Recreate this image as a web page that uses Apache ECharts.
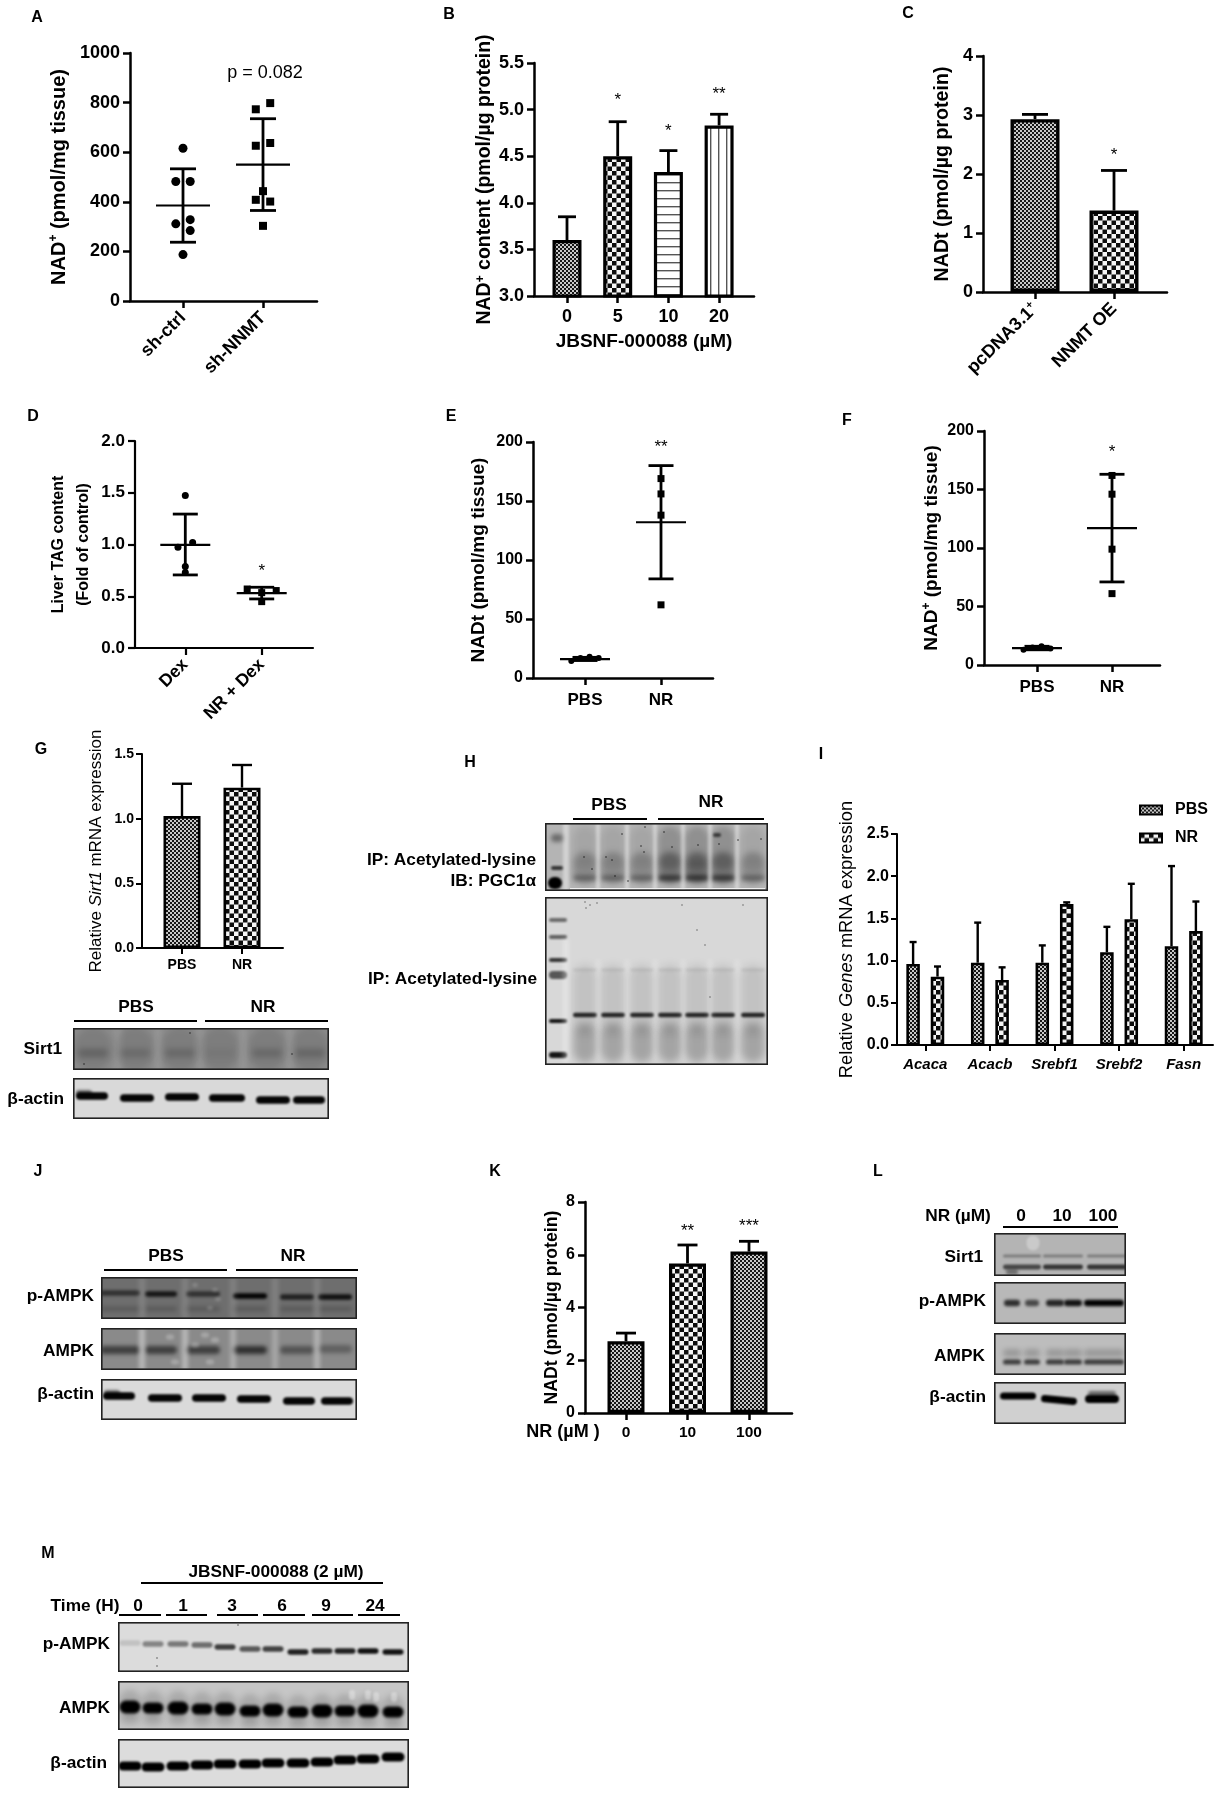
<!DOCTYPE html>
<html><head><meta charset="utf-8">
<style>html,body{margin:0;padding:0;background:#fff}#c{width:1231px;height:1800px}</style>
<script src="https://cdn.jsdelivr.net/npm/echarts@6/dist/echarts.min.js"></script>
</head><body><div id="c"></div>
<script>
// ---------- DATA ----------
const aCats = ['sh-ctrl','sh-NNMT'];
const aCtrl = [[1,616],[0.91,482],[1.09,482],[0.91,311],[1.09,328],[1.09,284],[1,187]];
const aNnmt = [[2.09,798],[1.91,773],[2.09,637],[1.91,626],[2,443],[1.91,408],[2.09,401],[2,303]];
const aStats = [[1,385,533,237],[2,550,735,365]];
const bCats = ['0','5','10','20'];
const bVals = [3.6,4.5,4.33,4.83];
const bTops = [3.85,4.87,4.56,4.95];
const bStars = [[2,5.13,'*'],[3,4.8,'*'],[4,5.2,'**']];
const cCats = ['pcDNA3.1{sup|+}','NNMT OE'];
const cVals = [2.93,1.38];
const cTops = [3.01,2.06];
const cStars = [[2,2.36,'*']];
const dCats = ['Dex','NR + Dex'];
const dDex = [[1,1.474],[1.096,1.02],[0.904,0.974],[1,0.787],[1,0.73]];
const dNr = [[1.81,0.57],[2.19,0.555],[2,0.535],[2,0.448]];
const dStats = [[1,0.997,1.294,0.706],[2,0.53,0.587,0.474]];
const dStars = [[2,0.77,'*']];
const pbsNr = ['PBS','NR'];
const ePbs = [[0.82,14.5],[0.94,17],[1.06,18],[1.18,17]];
const eNr = [[2,169],[2,156],[2,138],[2,62]];
const eStats = [[1,16,17.5,14.8],[2,132,180,84]];
const eStars = [[2,198,'**']];
const fPbs = [[0.82,13],[0.94,15],[1.06,16],[1.18,14]];
const fNr = [[2,162],[2,146],[2,99],[2,61]];
const fStats = [[1,14.5,16,13],[2,117,163,71]];
const fStars = [[2,184,'*']];
const gVals = [1.02,1.24];
const gTops = [1.27,1.415];
const iCats = ['Acaca','Acacb','Srebf1','Srebf2','Fasn'];
const iPbs = [0.96,0.975,0.975,1.10,1.17];
const iPbsTop = [1.22,1.45,1.18,1.40,2.12];
const iNr = [0.81,0.77,1.67,1.49,1.35];
const iNrTop = [0.93,0.92,1.69,1.91,1.70];
const kCats = ['0','10','100'];
const kVals = [2.72,5.67,6.12];
const kTops = [3.03,6.37,6.51];
const kStars = [[2,7.02,'**'],[3,7.18,'***']];

// ---------- HELPERS ----------
const FF = '"Liberation Sans", Arial, sans-serif';
function tile(kind){
  const c=document.createElement('canvas'), x=()=>c.getContext('2d');
  if(kind==='fine'){c.width=c.height=4;const g=x();g.fillStyle='#c8c8c8';g.fillRect(0,0,4,4);g.fillStyle='#161616';g.fillRect(0,0,2,2);g.fillRect(2,2,2,2);}
  if(kind==='coarse'){c.width=c.height=9;const g=x();g.fillStyle='#f4f4f4';g.fillRect(0,0,9,9);g.fillStyle='#0c0c0c';g.fillRect(0,0,4.5,4.5);g.fillRect(4.5,4.5,4.5,4.5);}
  if(kind==='h'){c.width=4;c.height=8;const g=x();g.fillStyle='#fff';g.fillRect(0,0,4,8);g.fillStyle='#555';g.fillRect(0,6,4,1.4);}
  if(kind==='v'){c.width=8;c.height=4;const g=x();g.fillStyle='#fff';g.fillRect(0,0,8,4);g.fillStyle='#555';g.fillRect(6,0,1.4,4);}
  return {image:c,repeat:'repeat'};
}
const P={fine:tile('fine'),coarse:tile('coarse'),h:tile('h'),v:tile('v')};
const grids=[],xAxes=[],yAxes=[],series=[],gfx=[];
const subRich=(fs,w)=>({sup:{fontSize:Math.round(fs*0.62),fontWeight:w,fontFamily:FF,verticalAlign:'top',lineHeight:fs+2,padding:[0,0,fs*0.45,0]},
  i:{fontSize:fs,fontStyle:'italic',fontWeight:w,fontFamily:FF},t:{fontSize:fs,fontWeight:w,fontFamily:FF}});
function panel(o){
  const i=grids.length, u=o.cat2-o.cat1;
  const cv=o.cats.map((_,k)=>k+1);
  const lw=o.lw||2.5, tl=o.tick||7;
  grids.push({left:o.l,top:o.t,width:o.r-o.l,height:o.b-o.t});
  xAxes.push({type:'value',gridIndex:i,position:'bottom',min:1-(o.cat1-o.l)/u,max:1+(o.r-o.cat1)/u,
    splitLine:{show:false},axisLine:{onZero:false,lineStyle:{color:'#000',width:lw}},
    axisTick:{customValues:cv,length:tl,lineStyle:{color:'#000',width:lw}},
    axisLabel:{customValues:cv,formatter:v=>o.cats[Math.round(v)-1],rotate:o.rot||0,margin:o.xm||12,color:'#000',
      fontFamily:FF,fontSize:o.xfs||16,fontWeight:o.xw||'bold',fontStyle:o.xi?'italic':'normal',rich:subRich(o.xfs||16,'bold')},
    name:o.xname||'',nameLocation:'middle',nameGap:o.xgap||30,nameTextStyle:{color:'#000',fontFamily:FF,fontSize:19,fontWeight:'bold'}});
  yAxes.push({type:'value',gridIndex:i,min:o.ymin,max:o.ymax,interval:o.yint,splitLine:{show:false},
    axisLine:{onZero:false,show:true,lineStyle:{color:'#000',width:lw}},
    axisTick:{show:true,length:tl,lineStyle:{color:'#000',width:lw}},
    axisLabel:{margin:o.ym||10,color:'#000',fontFamily:FF,fontSize:o.yfs||18,fontWeight:'bold',
      formatter:v=>o.yd?v.toFixed(o.yd):String(v)},
    name:o.yname,nameLocation:'middle',nameRotate:90,nameGap:o.ygap,
    nameTextStyle:{color:'#000',fontFamily:FF,fontSize:o.ynfs||18,fontWeight:o.ynw||'bold',lineHeight:o.ynlh,rich:subRich(o.ynfs||18,o.ynw||'bold')}});
  return i;
}
function whiskers(i,data,cap,mean){
  series.push({type:'custom',name:'stats'+i,xAxisIndex:i,yAxisIndex:i,coordinateSystem:'cartesian2d',z:3,silent:true,clip:false,
    encode:{x:0,y:[1,2,3]},data,
    renderItem(p,api){
      const x=api.value(0),m=api.coord([x,api.value(1)]),h=api.coord([x,api.value(2)]),l=api.coord([x,api.value(3)]);
      const L=(a,b,c,d,w)=>({type:'line',shape:{x1:a,y1:b,x2:c,y2:d},style:{stroke:'#000',lineWidth:w}});
      return {type:'group',children:[L(m[0],h[1],m[0],l[1],2.8),L(m[0]-cap,h[1],m[0]+cap,h[1],2.8),L(m[0]-cap,l[1],m[0]+cap,l[1],2.8),L(m[0]-mean,m[1],m[0]+mean,m[1],2.2)]};
    }});
}
function pts(i,data,symbol,size){
  series.push({type:'scatter',name:'pts'+i+symbol,xAxisIndex:i,yAxisIndex:i,symbol,symbolSize:size,data,z:4,silent:true,itemStyle:{color:'#000',opacity:1}});
}
function bars(i,name,xs,vals,tops,pats,opt){
  opt=opt||{};
  series.push({type:'bar',name,xAxisIndex:i,yAxisIndex:i,barWidth:opt.w,barGap:'-100%',z:2,silent:true,
    itemStyle:{borderColor:'#000',borderWidth:opt.bw||3,color:pats[0]},
    data:vals.map((v,k)=>({value:[xs[k],v],itemStyle:{color:pats[k%pats.length],borderColor:'#000',borderWidth:opt.bw||3}}))});
  const d=vals.map((v,k)=>[xs[k],v,tops[k]]), cap=opt.cap||9;
  series.push({type:'custom',name:name+' err',xAxisIndex:i,yAxisIndex:i,z:1,silent:true,clip:false,encode:{x:0,y:[1,2]},data:d,
    renderItem(p,api){
      const a=api.coord([api.value(0),api.value(1)]),b=api.coord([api.value(0),api.value(2)]);
      const s={stroke:'#000',lineWidth:opt.elw||2.8};
      return {type:'group',children:[{type:'line',shape:{x1:a[0],y1:a[1],x2:b[0],y2:b[1]},style:s},
        {type:'line',shape:{x1:b[0]-cap,y1:b[1],x2:b[0]+cap,y2:b[1]},style:s}]};
    }});
}
function stars(i,list){
  series.push({type:'custom',name:'sig'+i,xAxisIndex:i,yAxisIndex:i,z:5,silent:true,clip:false,encode:{x:0,y:1},
    data:list.map(s=>[s[0],s[1]]),
    renderItem(p,api){
      const c=api.coord([api.value(0),api.value(1)]);
      return {type:'text',x:c[0],y:c[1]+3,style:{text:list[p.dataIndex][2],fontFamily:FF,fontSize:17,fill:'#000',align:'center',verticalAlign:'middle'}};
    }});
}
function txt(text,x,y,o){
  o=o||{};
  gfx.push({type:'text',x,y,z:20,rotation:o.rot||0,style:{text,fontFamily:FF,fontSize:o.fs||17.3,fontWeight:o.w||'bold',fill:'#000',align:o.a||'center',verticalAlign:'middle'}});
}
function rule(x1,x2,y,w){gfx.push({type:'line',z:20,shape:{x1,y1:y,x2,y2:y},style:{stroke:'#000',lineWidth:w||2.2}});}

// ---------- CHART PANELS ----------
let g;
g=panel({l:130,r:317,t:53,b:301,cat1:183,cat2:263,cats:aCats,ymin:0,ymax:1000,yint:200,yname:'{t|NAD}{sup|+}{t| (pmol/mg tissue)}',ygap:60,ynfs:20,rot:45,xfs:18,xm:14});
whiskers(g,aStats,13,27);pts(g,aCtrl,'circle',9);pts(g,aNnmt,'rect',8);
g=panel({l:534,r:754,t:63,b:296,cat1:567,cat2:617.7,cats:bCats,ymin:3,ymax:5.5,yint:0.5,yd:1,yname:'{t|NAD}{sup|+}{t| content (pmol/µg protein)}',ygap:38,ynfs:19.5,xfs:18,xm:12,xname:'JBSNF-000088 (µM)',xgap:36});
bars(g,'B',[1,2,3,4],bVals,bTops,[P.fine,P.coarse,P.h,P.v],{w:29,bw:3.2});stars(g,bStars);
g=panel({l:983,r:1167,t:56,b:292,cat1:1035,cat2:1114,cats:cCats,ymin:0,ymax:4,yint:1,yname:'NADt (pmol/µg protein)',ygap:30,ynfs:19.6,rot:45,xfs:18,xm:14});
bars(g,'C',[1,2],cVals,cTops,[P.fine,P.coarse],{w:49,bw:3.4,cap:13});stars(g,cStars);
g=panel({l:135,r:313,t:441,b:648,cat1:185.3,cat2:261.7,cats:dCats,ymin:0,ymax:2,yint:0.5,yd:1,yfs:17,yname:'Liver TAG content\n(Fold of control)',ynfs:16,ynlh:25,ygap:39,rot:45,xfs:17.5,xm:14,lw:2.2});
whiskers(g,dStats,12.5,25);pts(g,dDex,'circle',7);pts(g,dNr,'rect',7);stars(g,dStars);
g=panel({l:533,r:713,t:442,b:678,cat1:585,cat2:661,cats:pbsNr,ymin:0,ymax:200,yint:50,yfs:16,yname:'NADt (pmol/mg tissue)',ygap:45,ynfs:19,xfs:17,xm:14});
whiskers(g,eStats,12.5,25);pts(g,ePbs,'circle',6);pts(g,eNr,'rect',7);stars(g,eStars);
g=panel({l:984,r:1160,t:431,b:665,cat1:1037,cat2:1112,cats:pbsNr,ymin:0,ymax:200,yint:50,yfs:16,yname:'{t|NAD}{sup|+}{t| (pmol/mg tissue)}',ygap:42,ynfs:19,xfs:17,xm:14});
whiskers(g,fStats,12.5,25);pts(g,fPbs,'circle',6);pts(g,fNr,'rect',7);stars(g,fStars);
g=panel({l:142,r:283,t:754,b:948,cat1:182,cat2:242,cats:pbsNr,ymin:0,ymax:1.5,yint:0.5,yd:1,yfs:14,yname:'Relative {i|Sirt1} mRNA expression',ygap:37,ynfs:17,ynw:'normal',xfs:14,xm:10,lw:2,tick:6,ym:8});
bars(g,'G',[1,2],gVals,gTops,[P.fine,P.coarse],{w:37,bw:2.6,cap:10,elw:2.4});
g=panel({l:897,r:1213,t:834,b:1045,cat1:925.3,cat2:989.9,cats:iCats,ymin:0,ymax:2.5,yint:0.5,yd:1,yfs:16,yname:'Relative {i|Genes} mRNA expression',ygap:41,ynfs:18.3,ynw:'normal',xfs:15,xi:true,xm:12,lw:2,tick:6,ym:8});
{const off=12.2/64.6;
 bars(g,'PBS',iCats.map((_,k)=>k+1-off),iPbs,iPbsTop,[P.fine],{w:13.5,bw:2.6,cap:3.5,elw:2.4});
 bars(g,'NR',iCats.map((_,k)=>k+1+off),iNr,iNrTop,[P.coarse],{w:13.5,bw:2.6,cap:3.5,elw:2.4});}
g=panel({l:585,r:792,t:1202,b:1413,cat1:626,cat2:687.5,cats:kCats,ymin:0,ymax:8,yint:2,yfs:16,yname:'NADt (pmol/µg protein)',ygap:24,ynfs:17.7,xfs:15.5,xm:12});
bars(g,'K',[1,2,3],kVals,kTops,[P.fine,P.coarse,P.fine],{w:37,bw:3.2,cap:10});stars(g,kStars);

// ---------- TEXT ----------
[['A',37,18],['B',449,15],['C',908,14],['D',33,417],['E',451,417],['F',847,421],['G',41,750],['H',470,763],['I',821,755],['J',38,1172],['K',495,1172],['L',878,1172],['M',48,1554]]
  .forEach(a=>txt(a[0],a[1],a[2],{fs:16}));
txt('p = 0.082',265,73,{fs:18,w:'normal'});
txt('NR (µM )',563,1432,{fs:18});
// G
txt('PBS',136,1007);txt('NR',263,1007);rule(74,197,1021);rule(205,328,1021);
txt('Sirt1',62,1049,{a:'right'});txt('β-actin',64,1099,{a:'right'});
// H
txt('PBS',609,805);txt('NR',711,802);rule(573,647,819);rule(658,764,819);
txt('IP: Acetylated-lysine',536,860,{a:'right'});txt('IB: PGC1α',536,881,{a:'right'});txt('IP: Acetylated-lysine',537,979,{a:'right'});
// J
txt('PBS',166,1256);txt('NR',293,1256);rule(104,227,1270);rule(236,358,1270);
txt('p-AMPK',94,1296,{a:'right'});txt('AMPK',94,1351,{a:'right'});txt('β-actin',94,1394,{a:'right'});
// L
txt('NR (µM)',958,1216);txt('0',1021,1216);txt('10',1062,1216);txt('100',1103,1216);rule(1003,1118,1227);
txt('Sirt1',983,1257,{a:'right'});txt('p-AMPK',986,1301,{a:'right'});txt('AMPK',985,1356,{a:'right'});txt('β-actin',986,1397,{a:'right'});
// M
txt('JBSNF-000088 (2 µM)',276,1572);rule(141,383,1583);txt('Time (H)',85,1606);
[['0',138,119,161],['1',183,166,207],['3',232,217,258],['6',282,263,305],['9',326,312,353],['24',375,358,400]]
  .forEach(a=>{txt(a[0],a[1],1606);rule(a[2],a[3],1615);});
txt('p-AMPK',110,1644,{a:'right'});txt('AMPK',110,1708,{a:'right'});txt('β-actin',107,1763,{a:'right'});

// ---------- BLOT IMAGES (painted texture, not data) ----------
function blot(x,y,w,h,bg,draw){
  const c=document.createElement('canvas');c.width=w;c.height=h;
  const t=c.getContext('2d');t.fillStyle=bg;t.fillRect(0,0,w,h);t.translate(-x,-y);
  draw(t);t.setTransform(1,0,0,1,0,0);
  t.strokeStyle='#222';t.lineWidth=1.6;t.strokeRect(.8,.8,w-1.6,h-1.6);
  gfx.push({type:'image',x,y,z:1,style:{image:c,x:0,y:0,width:w,height:h}});
}
function band(t,cx,cy,rx,ry,a,bl,rgb){
  t.save();t.filter='blur('+(bl==null?1:bl)+'px)';t.fillStyle='rgba('+(rgb||'0,0,0')+','+a+')';
  t.beginPath();t.roundRect(cx-rx,cy-ry,2*rx,2*ry,Math.min(rx,ry));t.fill();t.restore();
}
const W='255,255,255';
// G
blot(73,1028,256,42,'#8c8c8c',t=>{
  [93,135,180,220,267,310].forEach((x,k)=>{band(t,x,1049,19,22,.1,3);band(t,x,1053,15,4,[.22,.16,.18,.06,.18,.2][k],3);});
  [118,158,200,243,290].forEach(x=>band(t,x,1049,3,24,.1,3,W));
  [[84,1064],[160,1070],[190,1033],[292,1054]].forEach(p=>band(t,p[0],p[1],.8,.8,.7,.3));
});
blot(73,1078,256,41,'#d9d9d9',t=>{
  [[92,1096,16],[137,1098,17],[182,1097,17],[227,1098,18],[273,1100,17],[309,1100,16]].forEach(p=>band(t,p[0],p[1],p[2],3.8,.98,1.1));
  band(t,84,1093,8,3,.5,1.5);
});
// H
const hLanes=[585,613,642,670,697,723,753], hGaps=[598,627,655,683,710,737];
blot(545,823,223,68,'#b4b4b4',t=>{
  hLanes.forEach((x,k)=>{const d=k>2&&k<6?.2:.08;band(t,x,848,12,22,d,3);band(t,x,868,12,16,d+.14,3);band(t,x,878,12,3,.3+(k>2&&k<6?.25:0),2);});
  band(t,697,870,12,10,.08,2);
  hGaps.forEach(x=>band(t,x,858,2,36,.42,1.5,W));
  band(t,566,858,3,36,.4,1.5,W);
  band(t,557,838,6,4,.4,2);band(t,557,868,6,2,.7,1.3);band(t,555,883,7,6,1,1.2);
  band(t,717,835,4,2,.6,1);
  [[612,860],[606,857],[615,876],[644,852],[641,846],[622,834],[584,857],[592,869],[645,827],[672,847],[698,845],[719,844],[738,840],[761,839],[664,832],[628,881]]
    .forEach(p=>band(t,p[0],p[1],.8,.8,.75,.5));
  t.fillStyle='#eee';t.fillRect(570,888,195,1.2);
});
blot(545,897,223,168,'#d8d8d8',t=>{
  [920,937,960,975,1021,1055].forEach((y,k)=>band(t,558,y,9,[2,2,2,4,2,3][k],[.5,.55,.75,.6,.9,.9][k],1.2));
  hLanes.forEach(x=>{band(t,x,1000,12,35,.1,4);band(t,x,1015,12,2.2,.8,1.3);band(t,x,1043,12,20,.24,4);band(t,x,970,12,1.5,.07,1.2);});
  hGaps.forEach(x=>band(t,x,1010,2,50,.28,2.5,W));
  band(t,566,1000,3,62,.3,2,W);
  [[585,902],[590,905],[597,903],[586,908],[697,930],[705,945],[710,997],[682,905],[743,905]].forEach(p=>band(t,p[0],p[1],.8,.8,.5,.5));
});
// J
const jGaps=[142,185,233,275,317];
blot(101,1277,256,42,'#6e6e6e',t=>{
  [[120,1293,20,.55],[161,1294,16,.8],[203,1294,17,.55],[250,1296,17,.98],[297,1297,17,.7],[335,1297,17,.85]].forEach(p=>{band(t,p[0],p[1],p[2],2.8,p[3],1.4);band(t,p[0],1309,p[2],2.5,.18,2);});
  jGaps.forEach(x=>band(t,x,1298,3,22,.14,2.5,W));
  [[195,1285],[215,1290],[210,1308],[218,1299]].forEach(p=>band(t,p[0],p[1],3,2,.18,1.8,W));
});
blot(101,1328,256,42,'#8a8a8a',t=>{
  [[120,1350,20,.55],[161,1350,16,.55],[203,1350,17,.55],[250,1350,17,.65],[297,1350,17,.4],[335,1349,17,.3]].forEach(p=>band(t,p[0],p[1],p[2],4,p[3],2));
  jGaps.forEach((x,k)=>band(t,x,1349,3,22,[.4,.4,.3,.25,.35][k],2,W));
  [[170,1337],[205,1335],[215,1340],[210,1362],[175,1362],[195,1345]].forEach(p=>band(t,p[0],p[1],4,2.5,.25,1.8,W));
});
blot(101,1379,256,41,'#dadada',t=>{
  [[119,1396,16],[165,1398,17],[209,1398,17],[254,1399,17],[299,1401,16],[337,1401,16]].forEach(p=>band(t,p[0],p[1],p[2],3.8,.98,1.1));
  band(t,112,1393,8,3,.5,1.5);
});
// L
blot(994,1233,132,43,'#b4b4b4',t=>{
  [[1022,19,.6],[1063,20,.7],[1107,20,.7]].forEach(p=>{band(t,p[0],1256,p[1],1.5,.3,1.3);band(t,p[0],1267,p[1],2.4,p[2],1.3);});
  band(t,1033,1243,6.5,7.5,.3,1,W);band(t,1012,1272,6,2.5,.4,1.5);
});
blot(994,1282,132,42,'#b8b8b8',t=>{
  [[1012,8,.75],[1032,7,.6],[1055,9,.8],[1073,9,.9],[1104,20,1]].forEach(p=>band(t,p[0],1303,p[1],3.2,p[2],1.5));
});
blot(994,1333,132,42,'#bdbdbd',t=>{
  [1012,1032,1055,1073,1104].forEach((x,k)=>{band(t,x,1362,[9,8,9,9,20][k],2.6,.68,1.5);band(t,x,1353,[9,8,9,9,20][k],4,.18,2.5);});
});
blot(994,1382,132,42,'#d0d0d0',t=>{
  band(t,1018,1396,18,3.5,1,1);
  t.save();t.translate(1059,1400);t.rotate(.09);t.translate(-1059,-1400);band(t,1059,1400,18,3.6,1,1);t.restore();
  band(t,1102,1399,17,4,1,1);band(t,1102,1394,14,3,.5,1.5);
});
// M
const mX=[130,153,178,202,225,250,273,298,322,345,368,393];
blot(118,1622,291,50,'#dcdcdc',t=>{
  const y=[1643,1644,1644,1645,1647,1649,1649,1652,1651,1651,1651,1652],a=[.12,.4,.45,.5,.72,.6,.7,.85,.8,.85,.92,.92];
  mX.forEach((x,k)=>band(t,x,y[k],10.5,2.8,a[k],1.3));
  [[157,1658],[157,1666],[238,1625]].forEach(p=>band(t,p[0],p[1],.8,.8,.6,.4));
});
blot(118,1681,291,49,'#c6c6c6',t=>{
  const y=[1707,1708,1708,1709,1709,1711,1710,1712,1711,1711,1711,1712];
  mX.forEach((x,k)=>{band(t,x,y[k]-3,11,14,.14,3);band(t,x,y[k]+12,10,6,.12,3);band(t,x,y[k],10.5,k%2?5.5:6.5,1,1.6);});
  [[368,1695],[352,1695],[376,1697],[394,1697]].forEach(p=>band(t,p[0],p[1],3,5,.35,1.3,W));
});
blot(118,1739,291,49,'#dcdcdc',t=>{
  const y=[1766,1767,1766,1765,1764,1764,1763,1763,1762,1760,1759,1757];
  mX.forEach((x,k)=>band(t,x,y[k],11.5,4.6,1,1));
});

// ---------- OPTION ----------
const chart=echarts.init(document.getElementById('c'),null,{renderer:'canvas'});
chart.setOption({
  animation:false,backgroundColor:'#fff',
  grid:grids,xAxis:xAxes,yAxis:yAxes,series,
  legend:{show:true,data:['PBS','NR'],orient:'vertical',left:1139,top:802,padding:0,itemWidth:22,itemHeight:9,itemGap:12,icon:'rect',selectedMode:false,
    textStyle:{color:'#000',fontFamily:FF,fontSize:16,fontWeight:'bold',padding:[0,0,0,8]}},
  graphic:{elements:gfx}
});
</script></body></html>
